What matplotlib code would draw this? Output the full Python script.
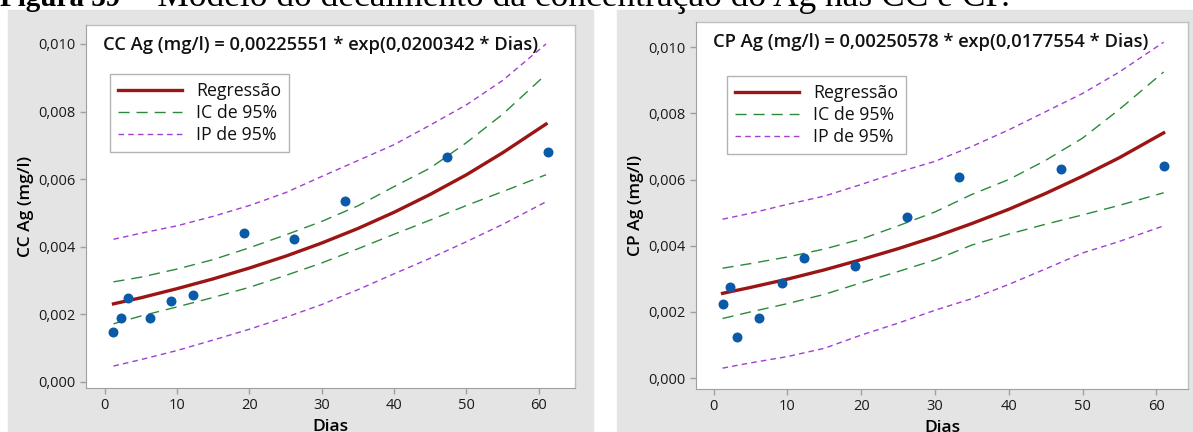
import numpy as np
import matplotlib.pyplot as plt
from matplotlib.patches import Rectangle
from matplotlib.ticker import FuncFormatter

plt.rcParams['font.family'] = ['Open Sans', 'DejaVu Sans']

# observed points (Dias, mg/l)
cc_dias = [1.2, 2.2, 3.2, 6.2, 9.2, 12.2, 19.2, 26.2, 33.2, 47.3, 61.2]
cc_ag = [0.00147, 0.00190, 0.00249, 0.00189, 0.00239, 0.00256, 0.00442, 0.00423, 0.00536, 0.00665, 0.00680]

cp_dias = [1.2, 2.2, 3.2, 6.2, 9.2, 12.2, 19.2, 26.2, 33.2, 47.1, 61.0]
cp_ag = [0.00224, 0.00274, 0.00123, 0.00181, 0.00286, 0.00363, 0.00340, 0.00488, 0.00609, 0.00632, 0.00640]

# fitted curves and bands
grid = [1.2, 5, 10, 15, 20, 25, 30, 35, 40, 45, 50, 55, 61]

cc_reg = [0.00231, 0.00249, 0.00276, 0.00305, 0.00337, 0.00372, 0.00411, 0.00454, 0.00502, 0.00555, 0.00613, 0.00678, 0.00763]
cc_ic_hi = [0.00296, 0.00310, 0.00334, 0.00362, 0.00397, 0.00435, 0.00475, 0.00521, 0.00578, 0.00633, 0.00708, 0.00792, 0.00910]
cc_ic_lo = [0.00172, 0.00195, 0.00222, 0.00250, 0.00280, 0.00315, 0.00352, 0.00394, 0.00437, 0.00479, 0.00522, 0.00563, 0.00613]
cc_ip_hi = [0.00422, 0.00440, 0.00462, 0.00490, 0.00522, 0.00560, 0.00608, 0.00655, 0.00702, 0.00760, 0.00820, 0.00892, 0.01000]
cc_ip_lo = [0.00047, 0.00066, 0.00093, 0.00124, 0.00156, 0.00191, 0.00229, 0.00273, 0.00320, 0.00366, 0.00415, 0.00466, 0.00533]

cp_reg = [0.00256, 0.00274, 0.00299, 0.00327, 0.00358, 0.00391, 0.00427, 0.00467, 0.00510, 0.00558, 0.00610, 0.00666, 0.00741]
cp_ic_hi = [0.00332, 0.00346, 0.00366, 0.00390, 0.00420, 0.00460, 0.00502, 0.00555, 0.00600, 0.00658, 0.00725, 0.00812, 0.00925]
cp_ic_lo = [0.00180, 0.00200, 0.00225, 0.00253, 0.00288, 0.00322, 0.00357, 0.00402, 0.00435, 0.00465, 0.00493, 0.00522, 0.00560]
cp_ip_hi = [0.00480, 0.00498, 0.00525, 0.00550, 0.00585, 0.00622, 0.00655, 0.00700, 0.00750, 0.00805, 0.00860, 0.00925, 0.01015]
cp_ip_lo = [0.00030, 0.00046, 0.00065, 0.00090, 0.00130, 0.00166, 0.00205, 0.00240, 0.00283, 0.00330, 0.00378, 0.00413, 0.00460]

W, H = 1193, 432
fig = plt.figure(figsize=(W / 100, H / 100), dpi=100)
fig.patch.set_facecolor('white')

# gray panel backgrounds
fig.patches.append(Rectangle((8 / W, 0), (593 - 8) / W, (H - 10) / H,
                             transform=fig.transFigure, color='#e4e4e4', zorder=-5))
fig.patches.append(Rectangle((617 / W, 0), (W - 617) / W, (H - 10) / H,
                             transform=fig.transFigure, color='#e4e4e4', zorder=-5))

# caption, cut at the top like in the source page
fig.text(0, 1 - 6 / H, 'Figura 39', family='Liberation Serif', fontweight='bold',
         fontsize=21, va='baseline', ha='left')
fig.text(122 / W, 1 - 6 / H, '\u2013  Modelo do decaimento da concentração do Ag nas CC e CP.',
         family='Liberation Serif', fontsize=25.5, va='baseline', ha='left')

comma = FuncFormatter(lambda v, p: f'{v:.3f}'.replace('.', ','))


def draw_panel(box, xlim, ylim, dias, ag, reg, ic_hi, ic_lo, ip_hi, ip_lo, name, eq, leg_box):
    left, top, right, bottom = box
    ax = fig.add_axes([left / W, (H - bottom) / H, (right - left) / W, (bottom - top) / H])
    ax.set_facecolor('white')
    ax.plot(grid, ip_hi, color='#a040d0', lw=1.0, dashes=(4, 3), label='IP de 95%', zorder=2)
    ax.plot(grid, ip_lo, color='#a040d0', lw=1.0, dashes=(4, 3), zorder=2)
    ax.plot(grid, ic_hi, color='#2a8a3a', lw=1.0, dashes=(8, 5), label='IC de 95%', zorder=2)
    ax.plot(grid, ic_lo, color='#2a8a3a', lw=1.0, dashes=(8, 5), zorder=2)
    ax.plot(grid, reg, color='#9b1515', lw=2.4, label='Regressão', zorder=3)
    ax.scatter(dias, ag, s=38, color='#0a5aa8', zorder=4)

    ax.set_xlim(*xlim)
    ax.set_ylim(*ylim)
    ax.set_xticks([0, 10, 20, 30, 40, 50, 60])
    ax.set_yticks([0, 0.002, 0.004, 0.006, 0.008, 0.010])
    ax.yaxis.set_major_formatter(comma)
    for s in ['top', 'right']:
        ax.spines[s].set_visible(False)
    for s in ['left', 'bottom']:
        ax.spines[s].set_color('#a0a0a0')
    ax.tick_params(colors='#a0a0a0', labelcolor='#1a1a1a', labelsize=10.5, length=4, width=1)

    # frame on top/right drawn lighter
    ax.plot([1, 1], [0, 1], transform=ax.transAxes, color='#c0c0c0', lw=1, clip_on=False)
    ax.plot([0, 1], [1, 1], transform=ax.transAxes, color='#c0c0c0', lw=1, clip_on=False)

    ax.set_xlabel('Dias', fontsize=12.5, fontweight='semibold', labelpad=4)
    ax.set_ylabel(name + ' Ag (mg/l)', fontsize=12.5, fontweight='semibold', labelpad=3)
    ax.text(0.035, 0.945, eq, transform=ax.transAxes, fontsize=13.2, fontweight='semibold',
            ha='left', va='center', color='#111111')

    handles, labels = ax.get_legend_handles_labels()
    order = [2, 1, 0]
    lx0, ly0, lx1, ly1 = leg_box
    leg = ax.legend([handles[i] for i in order], [labels[i] for i in order],
                    loc='upper left',
                    bbox_to_anchor=((lx0 - left) / (right - left), (bottom - ly0) / (bottom - top)),
                    fontsize=12.8, frameon=True, fancybox=False, edgecolor='#a0a0a0',
                    handlelength=3.6, borderpad=0.45, labelspacing=0.22, handletextpad=0.8,
                    borderaxespad=0)
    leg.get_frame().set_linewidth(1.0)
    for t in leg.get_texts():
        t.set_color('#111111')
    return ax


draw_panel((86, 25, 575, 388), (-2.6, 65.0), (-0.00018, 0.01056),
           cc_dias, cc_ag, cc_reg, cc_ic_hi, cc_ic_lo, cc_ip_hi, cc_ip_lo,
           'CC', 'CC Ag (mg/l) = 0,00225551 * exp(0,0200342 * Dias)', (110, 74, 286, 156))
draw_panel((696, 22, 1188, 389), (-2.4, 64.3), (-0.00033, 0.01076),
           cp_dias, cp_ag, cp_reg, cp_ic_hi, cp_ic_lo, cp_ip_hi, cp_ip_lo,
           'CP', 'CP Ag (mg/l) = 0,00250578 * exp(0,0177554 * Dias)', (727, 76, 896, 157))

fig.savefig('out.png', dpi=100)
